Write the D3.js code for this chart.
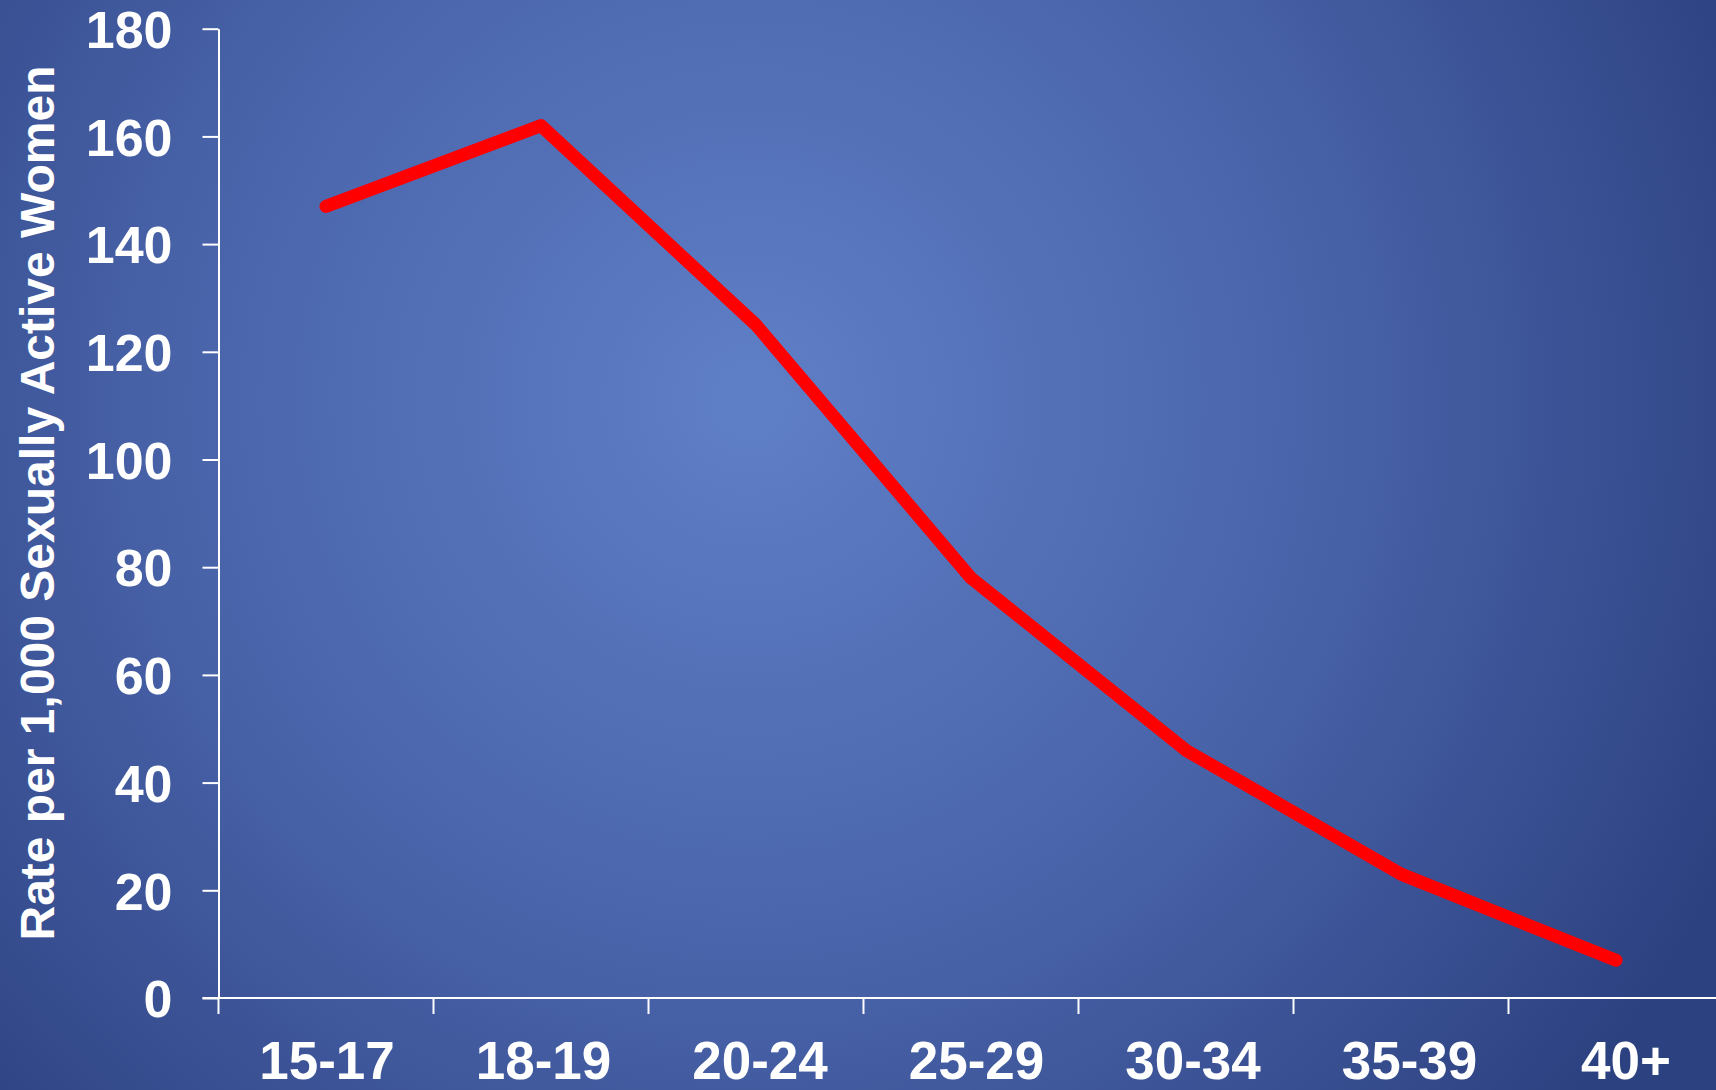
<!DOCTYPE html>
<html>
<head>
<meta charset="utf-8">
<script src="https://cdn.jsdelivr.net/npm/d3@7"></script>
<style>
  html, body { margin: 0; padding: 0; overflow: hidden; }
  svg { display: block; font-family: "Liberation Sans", Arial, sans-serif; font-weight: bold; }
</style>
</head>
<body>
<svg id="chart"></svg>
<script>
// datos del grafico
const ageGroups = ['15-17', '18-19', '20-24', '25-29', '30-34', '35-39', '40+'];
const rates = [147, 162, 125, 78, 46, 23, 7];
const yTicks = [0, 20, 40, 60, 80, 100, 120, 140, 160, 180];
const yTitle = 'Rate per 1,000 Sexually Active Women';

const width = 1716;
const height = 1090;
const plotLeft = 218.5;
const plotTop = 28.7;
const plotBottom = 998;
const bandW = 215;

const svg = d3.select('#chart')
  .attr('width', width)
  .attr('height', height);

// fondo con degradado radial
const defs = svg.append('defs');
const grad = defs.append('radialGradient')
  .attr('id', 'bg')
  .attr('gradientUnits', 'userSpaceOnUse')
  .attr('cx', 750).attr('cy', 400).attr('r', 1080);
grad.append('stop').attr('offset', 0).attr('stop-color', '#5f7fc7');
grad.append('stop').attr('offset', 0.55).attr('stop-color', '#4862a8');
grad.append('stop').attr('offset', 1).attr('stop-color', '#2c4180');

svg.append('rect')
  .attr('width', width).attr('height', height)
  .attr('fill', 'url(#bg)');

// escalas
const x = d3.scaleBand()
  .domain(ageGroups)
  .range([plotLeft, plotLeft + bandW * ageGroups.length])
  .paddingInner(0).paddingOuter(0);

// las etiquetas del eje x quedan un poco mas separadas que las bandas
const xLabel = d3.scalePoint()
  .domain(ageGroups)
  .range([327, 1626]);

const y = d3.scaleLinear()
  .domain([0, 180])
  .range([plotBottom, plotTop]);

// eje y
const yAxis = d3.axisLeft(y)
  .tickValues(yTicks)
  .tickSize(16)
  .tickSizeOuter(0)
  .tickPadding(30);

const gy = svg.append('g')
  .attr('transform', `translate(${plotLeft},0)`)
  .call(yAxis);
gy.select('.domain').attr('stroke', '#fff').attr('stroke-width', 2);
gy.selectAll('.tick line').attr('stroke', '#fff').attr('stroke-width', 2);
gy.selectAll('.tick text')
  .attr('fill', '#fff')
  .attr('font-size', 52)
  .attr('font-weight', 'bold')
  .attr('font-family', '"Liberation Sans", Arial, sans-serif')
  .attr('dy', '0.36em');

// eje x
const gx = svg.append('g').attr('class', 'x-axis');
gx.append('line')
  .attr('x1', plotLeft - 16).attr('x2', width + 10)
  .attr('y1', plotBottom).attr('y2', plotBottom)
  .attr('stroke', '#fff').attr('stroke-width', 2);

gx.selectAll('.xtick')
  .data(ageGroups)
  .enter()
  .append('line')
  .attr('class', 'xtick')
  .attr('x1', d => x(d)).attr('x2', d => x(d))
  .attr('y1', plotBottom).attr('y2', plotBottom + 16)
  .attr('stroke', '#fff').attr('stroke-width', 2);

gx.selectAll('.xlabel')
  .data(ageGroups)
  .enter()
  .append('text')
  .attr('class', 'xlabel')
  .attr('x', d => xLabel(d))
  .attr('y', 1079)
  .attr('text-anchor', 'middle')
  .attr('fill', '#fff')
  .attr('font-size', 53)
  .text(d => d);

// titulo eje y
svg.append('text')
  .attr('transform', `translate(54,503) rotate(-90)`)
  .attr('text-anchor', 'middle')
  .attr('fill', '#fff')
  .attr('font-size', 48)
  .text(yTitle);

// linea
const line = d3.line()
  .x((d, i) => x(ageGroups[i]) + x.bandwidth() / 2)
  .y(d => y(d));

svg.append('path')
  .datum(rates)
  .attr('d', line)
  .attr('fill', 'none')
  .attr('stroke', '#ff0000')
  .attr('stroke-width', 13)
  .attr('stroke-linejoin', 'round')
  .attr('stroke-linecap', 'round');
</script>
</body>
</html>
